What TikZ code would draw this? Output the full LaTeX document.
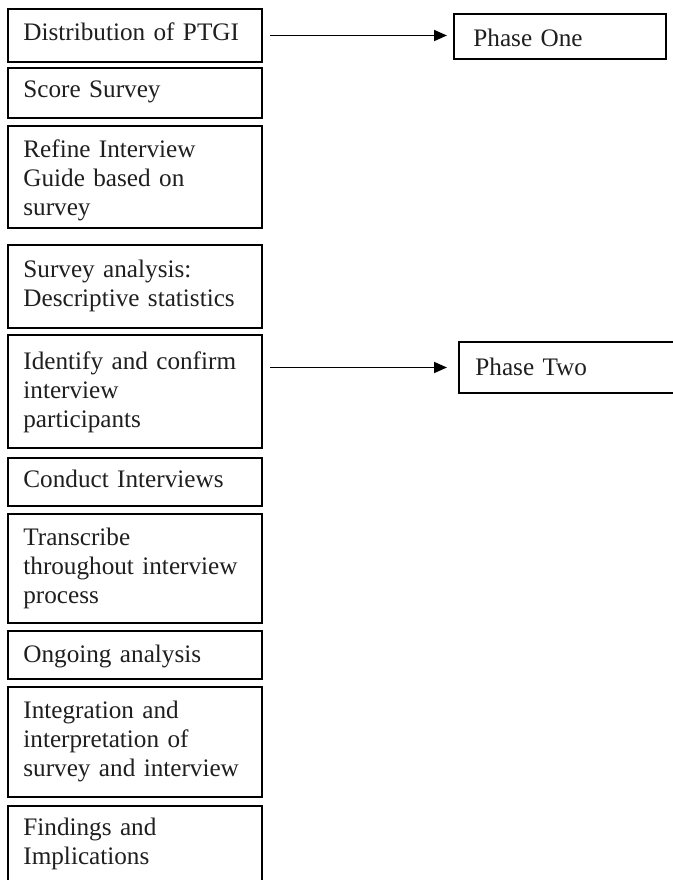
\documentclass[tikz,border=0pt]{standalone}
\usepackage{fontspec}
\setmainfont[WordSpace=0.8]{Liberation Serif}
\usetikzlibrary{arrows.meta}
\begin{document}
\begin{tikzpicture}[x=0.5pt,y=-0.5pt,
  stepbox/.style={draw, line width=0.9pt, anchor=north west, inner sep=0pt, outer sep=0pt, minimum width=127pt},
  phasebox/.style={draw, line width=0.9pt, anchor=north west, inner sep=0pt, outer sep=0pt},
  txt/.style={anchor=base west, inner sep=0pt, text width=118pt, align=left, text=black!88, font=\fontsize{12.6}{14.5}\selectfont},
  arr/.style={-{Triangle[length=6.5pt,width=5.5pt]}, line width=0.9pt}]
\useasboundingbox (0,0) rectangle (673,880);
\clip (0,0) rectangle (673,880);
\fill[white] (0,0) rectangle (673,880);
% left column boxes
\node[stepbox, minimum height=26.5pt] (b1) at (8,9) {};
\node[stepbox, minimum height=25pt] (b2) at (8,68) {};
\node[stepbox, minimum height=51pt] (b3) at (8,126) {};
\node[stepbox, minimum height=41.5pt] (b4) at (8,245) {};
\node[stepbox, minimum height=56.5pt] (b5) at (8,335) {};
\node[stepbox, minimum height=24pt] (b6) at (8,458) {};
\node[stepbox, minimum height=54.5pt] (b7) at (8,514) {};
\node[stepbox, minimum height=24pt] (b8) at (8,631) {};
\node[stepbox, minimum height=55pt] (b9) at (8,687) {};
\node[stepbox, minimum height=45pt] (b10) at (8,806) {};
% texts
\node[txt] (t1) at ([shift={(15,31)}]b1.north west) {Distribution of PTGI};
\node[txt] (t2) at ([shift={(15,29)}]b2.north west) {Score Survey};
\node[txt] (t3) at ([shift={(15,31)}]b3.north west) {Refine Interview\\Guide based on\\survey};
\node[txt] (t4) at ([shift={(15,32)}]b4.north west) {Survey analysis:\\Descriptive statistics};
\node[txt] (t5) at ([shift={(15,34)}]b5.north west) {Identify and confirm\\interview\\participants};
\node[txt] (t6) at ([shift={(15,29)}]b6.north west) {Conduct Interviews};
\node[txt] (t7) at ([shift={(15,31)}]b7.north west) {Transcribe\\throughout interview\\process};
\node[txt] (t8) at ([shift={(15,31)}]b8.north west) {Ongoing analysis};
\node[txt] (t9) at ([shift={(15,31)}]b9.north west) {Integration and\\interpretation of\\survey and interview};
\node[txt] (t10) at ([shift={(15,29)}]b10.north west) {Findings and\\Implications};
% phase boxes
\node[phasebox, minimum width=106pt, minimum height=22.5pt] (p1) at (454,14) {};
\node[phasebox, minimum width=120pt, minimum height=25.5pt] (p2) at (459,342) {};
\node[txt] (pt1) at ([shift={(19,32)}]p1.north west) {Phase One};
\node[txt] (pt2) at ([shift={(16,33)}]p2.north west) {Phase Two};
% arrows
\draw[arr, shorten <=4pt, shorten >=3.5pt] (b1.east) -- (b1.east -| p1.west);
\draw[arr, shorten <=4pt, shorten >=6pt] (b5.east |- p2.west) -- (p2.west);
\end{tikzpicture}
\end{document}
